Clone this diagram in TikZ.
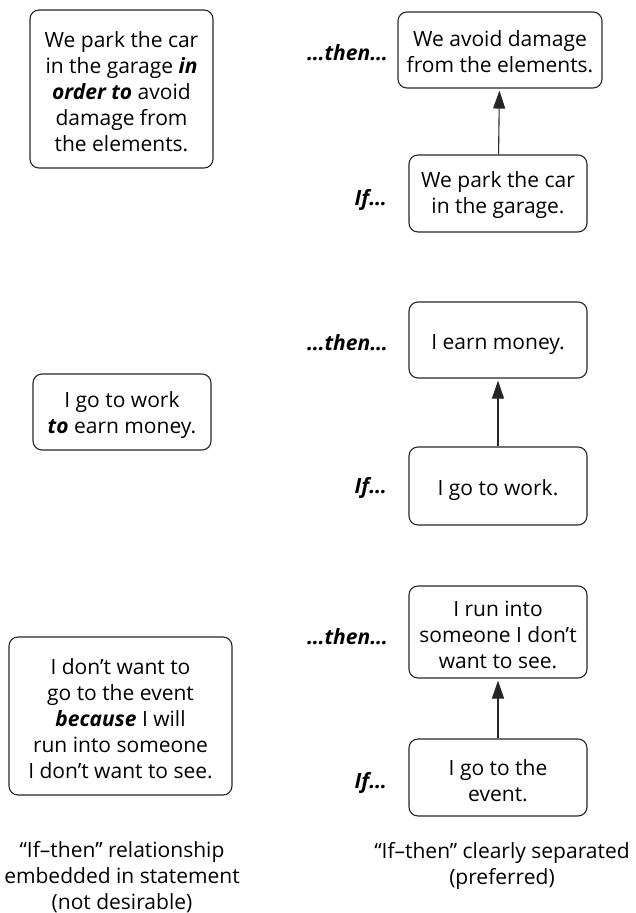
\documentclass[tikz,border=0pt]{standalone}
\usepackage{fontspec}
\setmainfont{Open Sans}
\usetikzlibrary{arrows.meta}
\begin{document}
\begin{tikzpicture}[x=1pt,y=-1pt,
  frame/.style={draw=black!85, line width=1.1pt, rounded corners=9pt, inner sep=0pt},
  words/.style={align=center, inner sep=0pt, font=\fontsize{21}{26}\selectfont},
  cue/.style={anchor=east, inner sep=0pt, font=\fontsize{21}{26}\selectfont\bfseries\itshape},
  link/.style={draw=black!85, line width=1.1pt, -{Triangle[length=18pt,width=12pt]}, shorten >=2pt}]
\useasboundingbox (0,0) rectangle (636,913);

% statements with the causal link embedded
\node[frame, minimum width=183pt, minimum height=158pt] (emb1) at (121.5,89) {};
\node[words] (emb1-t) at ([yshift=-3pt]emb1.center)
  {We park the car\\in the garage \textbf{\textit{in}}\\\textbf{\textit{order to}} avoid\\damage from\\the elements.};
\node[frame, minimum width=178pt, minimum height=76pt] (emb2) at (122,412) {};
\node[words] (emb2-t) at ([yshift=-3pt]emb2.center)
  {I go to work\\\textbf{\textit{to}} earn money.};
\node[frame, minimum width=223pt, minimum height=158pt] (emb3) at (120.5,716) {};
\node[words] (emb3-t) at ([yshift=-3pt]emb3.center)
  {I don’t want to\\go to the event\\\textbf{\textit{because}} I will\\run into someone\\I don’t want to see.};

% separated cause and effect
\node[frame, minimum width=204pt, minimum height=76pt] (eff1) at (500,50) {};
\node[words] (eff1-t) at ([yshift=-2pt]eff1.center) {We avoid damage\\from the elements.};
\node[frame, minimum width=178pt, minimum height=77pt] (cau1) at (498,193.5) {};
\node[words] (cau1-t) at ([yshift=-2pt]cau1.center) {We park the car\\in the garage.};
\node[frame, minimum width=178pt, minimum height=76pt] (eff2) at (498,340) {};
\node[words] (eff2-t) at ([yshift=-5pt]eff2.center) {I earn money.};
\node[frame, minimum width=178pt, minimum height=78pt] (cau2) at (498,486) {};
\node[words] (cau2-t) at ([yshift=-4pt]cau2.center) {I go to work.};
\node[frame, minimum width=178pt, minimum height=92pt] (eff3) at (498,632) {};
\node[words] (eff3-t) at ([yshift=-3pt]eff3.center) {I run into\\someone I don’t\\want to see.};
\node[frame, minimum width=178pt, minimum height=77pt] (cau3) at (498,777.5) {};
\node[words] (cau3-t) at ([yshift=-3pt]cau3.center) {I go to the\\event.};

\draw[link] (cau1) -- (eff1);
\draw[link] (cau2) -- (eff2);
\draw[link] (cau3) -- (eff3);

% if / then cues
\node[cue] (then1) at (388,53) {…then…};
\node[cue] (if1) at (387,200) {If…};
\node[cue] (then2) at (388,343) {…then…};
\node[cue] (if2) at (387,488) {If…};
\node[cue] (then3) at (388,637) {…then…};
\node[cue] (if3) at (387,783) {If…};

% column captions
\node[words] (capL) at (122,877) {“If–then” relationship\\embedded in statement\\(not desirable)};
\node[words] (capR) at (502,865.5) {“If–then” clearly separated\\(preferred)};
\end{tikzpicture}
\end{document}
